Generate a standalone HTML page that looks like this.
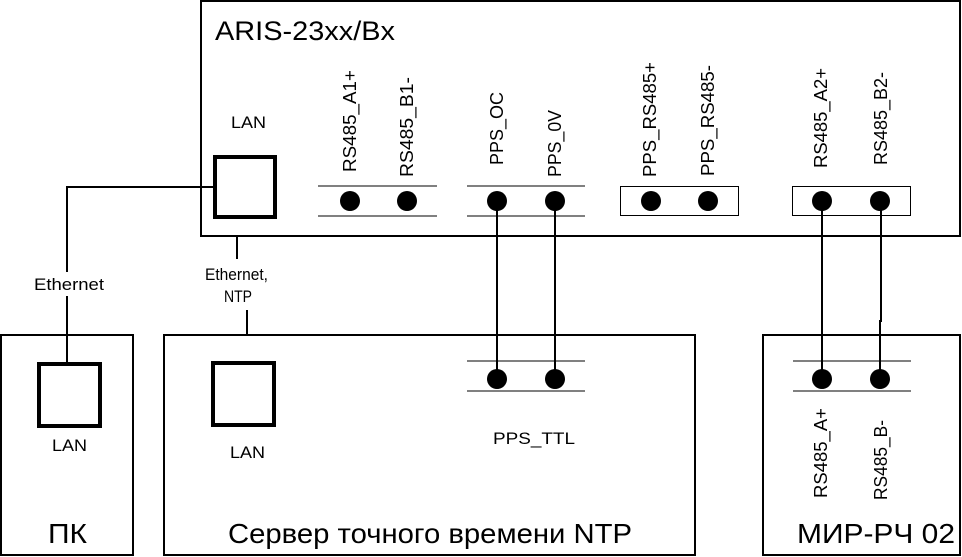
<!DOCTYPE html>
<html><head><meta charset="utf-8"><style>
html,body{margin:0;padding:0;background:#fff}
svg{display:block}
text{font-family:"Liberation Sans",sans-serif;fill:#000}
</style></head><body>
<svg width="962" height="557" viewBox="0 0 962 557" xmlns="http://www.w3.org/2000/svg">
<g fill="none" stroke="#000">
<rect x="201" y="1" width="759" height="235" stroke-width="2"/>
<rect x="1" y="335" width="132" height="220" stroke-width="2"/>
<rect x="164" y="335" width="531" height="220" stroke-width="2"/>
<rect x="763" y="335" width="197" height="220" stroke-width="2"/>
<rect x="215" y="157" width="60" height="60" stroke-width="4"/>
<rect x="39" y="364" width="61" height="62" stroke-width="4"/>
<rect x="213" y="363" width="61" height="62" stroke-width="4"/>
<polyline points="215,187 67,187 67,272" stroke-width="2"/>
<line x1="67" y1="296" x2="67" y2="364" stroke-width="2"/>
<line x1="237" y1="237" x2="237" y2="259" stroke-width="2"/>
<line x1="247" y1="310" x2="247" y2="335" stroke-width="2"/>
<line x1="497" y1="201" x2="497" y2="379" stroke-width="2"/>
<line x1="555" y1="201" x2="555" y2="379" stroke-width="2"/>
<line x1="822" y1="201" x2="822" y2="379" stroke-width="2"/>
<polyline points="881,201 881,321 880,321 880,379" stroke-width="2"/>
<g stroke-width="1">
<line x1="318" y1="186" x2="437" y2="186"/><line x1="318" y1="216" x2="437" y2="216"/>
<line x1="467" y1="186" x2="585" y2="186"/><line x1="467" y1="216" x2="585" y2="216"/>
<rect x="620.5" y="186.5" width="118" height="29"/>
<rect x="792.5" y="186.5" width="118" height="29"/>
<line x1="467" y1="361" x2="585" y2="361"/><line x1="467" y1="391" x2="585" y2="391"/>
<line x1="793" y1="361" x2="911" y2="361"/><line x1="793" y1="391" x2="911" y2="391"/>
</g>
</g>
<g fill="#000">
<circle cx="350" cy="201" r="10"/><circle cx="407" cy="201" r="10"/>
<circle cx="497" cy="201" r="10"/><circle cx="555" cy="201" r="10"/>
<circle cx="651" cy="201" r="10"/><circle cx="708" cy="201" r="10"/>
<circle cx="822" cy="201" r="10"/><circle cx="880" cy="201" r="10"/>
<circle cx="497" cy="379" r="10"/><circle cx="555" cy="379" r="10"/>
<circle cx="822" cy="379" r="10"/><circle cx="880" cy="379" r="10"/>
</g>
<text x="215" y="40" font-size="27" textLength="180" lengthAdjust="spacingAndGlyphs">ARIS-23xx/Bx</text>
<g font-size="17">
<text x="231" y="128" textLength="35" lengthAdjust="spacingAndGlyphs">LAN</text>
<text x="52" y="451" textLength="35" lengthAdjust="spacingAndGlyphs">LAN</text>
<text x="230" y="458" textLength="35" lengthAdjust="spacingAndGlyphs">LAN</text>
<text x="34" y="290" textLength="70" lengthAdjust="spacingAndGlyphs">Ethernet</text>
<text x="205" y="280" textLength="63" lengthAdjust="spacingAndGlyphs">Ethernet,</text>
<text x="224" y="302" textLength="28" lengthAdjust="spacingAndGlyphs">NTP</text>
<text x="493" y="444" textLength="82" lengthAdjust="spacingAndGlyphs">PPS_TTL</text>
</g>
<g font-size="18">
<text transform="translate(356,172) rotate(-90)" textLength="102" lengthAdjust="spacingAndGlyphs">RS485_A1+</text>
<text transform="translate(413,177) rotate(-90)" textLength="100" lengthAdjust="spacingAndGlyphs">RS485_B1-</text>
<text transform="translate(503,165) rotate(-90)" textLength="73" lengthAdjust="spacingAndGlyphs">PPS_OC</text>
<text transform="translate(561,177) rotate(-90)" textLength="67" lengthAdjust="spacingAndGlyphs">PPS_0V</text>
<text transform="translate(656,177) rotate(-90)" textLength="115" lengthAdjust="spacingAndGlyphs">PPS_RS485+</text>
<text transform="translate(714,176) rotate(-90)" textLength="111" lengthAdjust="spacingAndGlyphs">PPS_RS485-</text>
<text transform="translate(827,168) rotate(-90)" textLength="100" lengthAdjust="spacingAndGlyphs">RS485_A2+</text>
<text transform="translate(887,165) rotate(-90)" textLength="93" lengthAdjust="spacingAndGlyphs">RS485_B2-</text>
<text transform="translate(827,498) rotate(-90)" textLength="90" lengthAdjust="spacingAndGlyphs">RS485_A+</text>
<text transform="translate(887,500) rotate(-90)" textLength="80" lengthAdjust="spacingAndGlyphs">RS485_B-</text>
</g>
<g font-size="28">
<text x="48" y="543" textLength="39" lengthAdjust="spacingAndGlyphs">ПК</text>
<text x="228" y="543" textLength="404" lengthAdjust="spacingAndGlyphs">Сервер точного времени NTP</text>
<text x="797" y="543" textLength="158" lengthAdjust="spacingAndGlyphs">МИР-РЧ 02</text>
</g>
</svg>
</body></html>
